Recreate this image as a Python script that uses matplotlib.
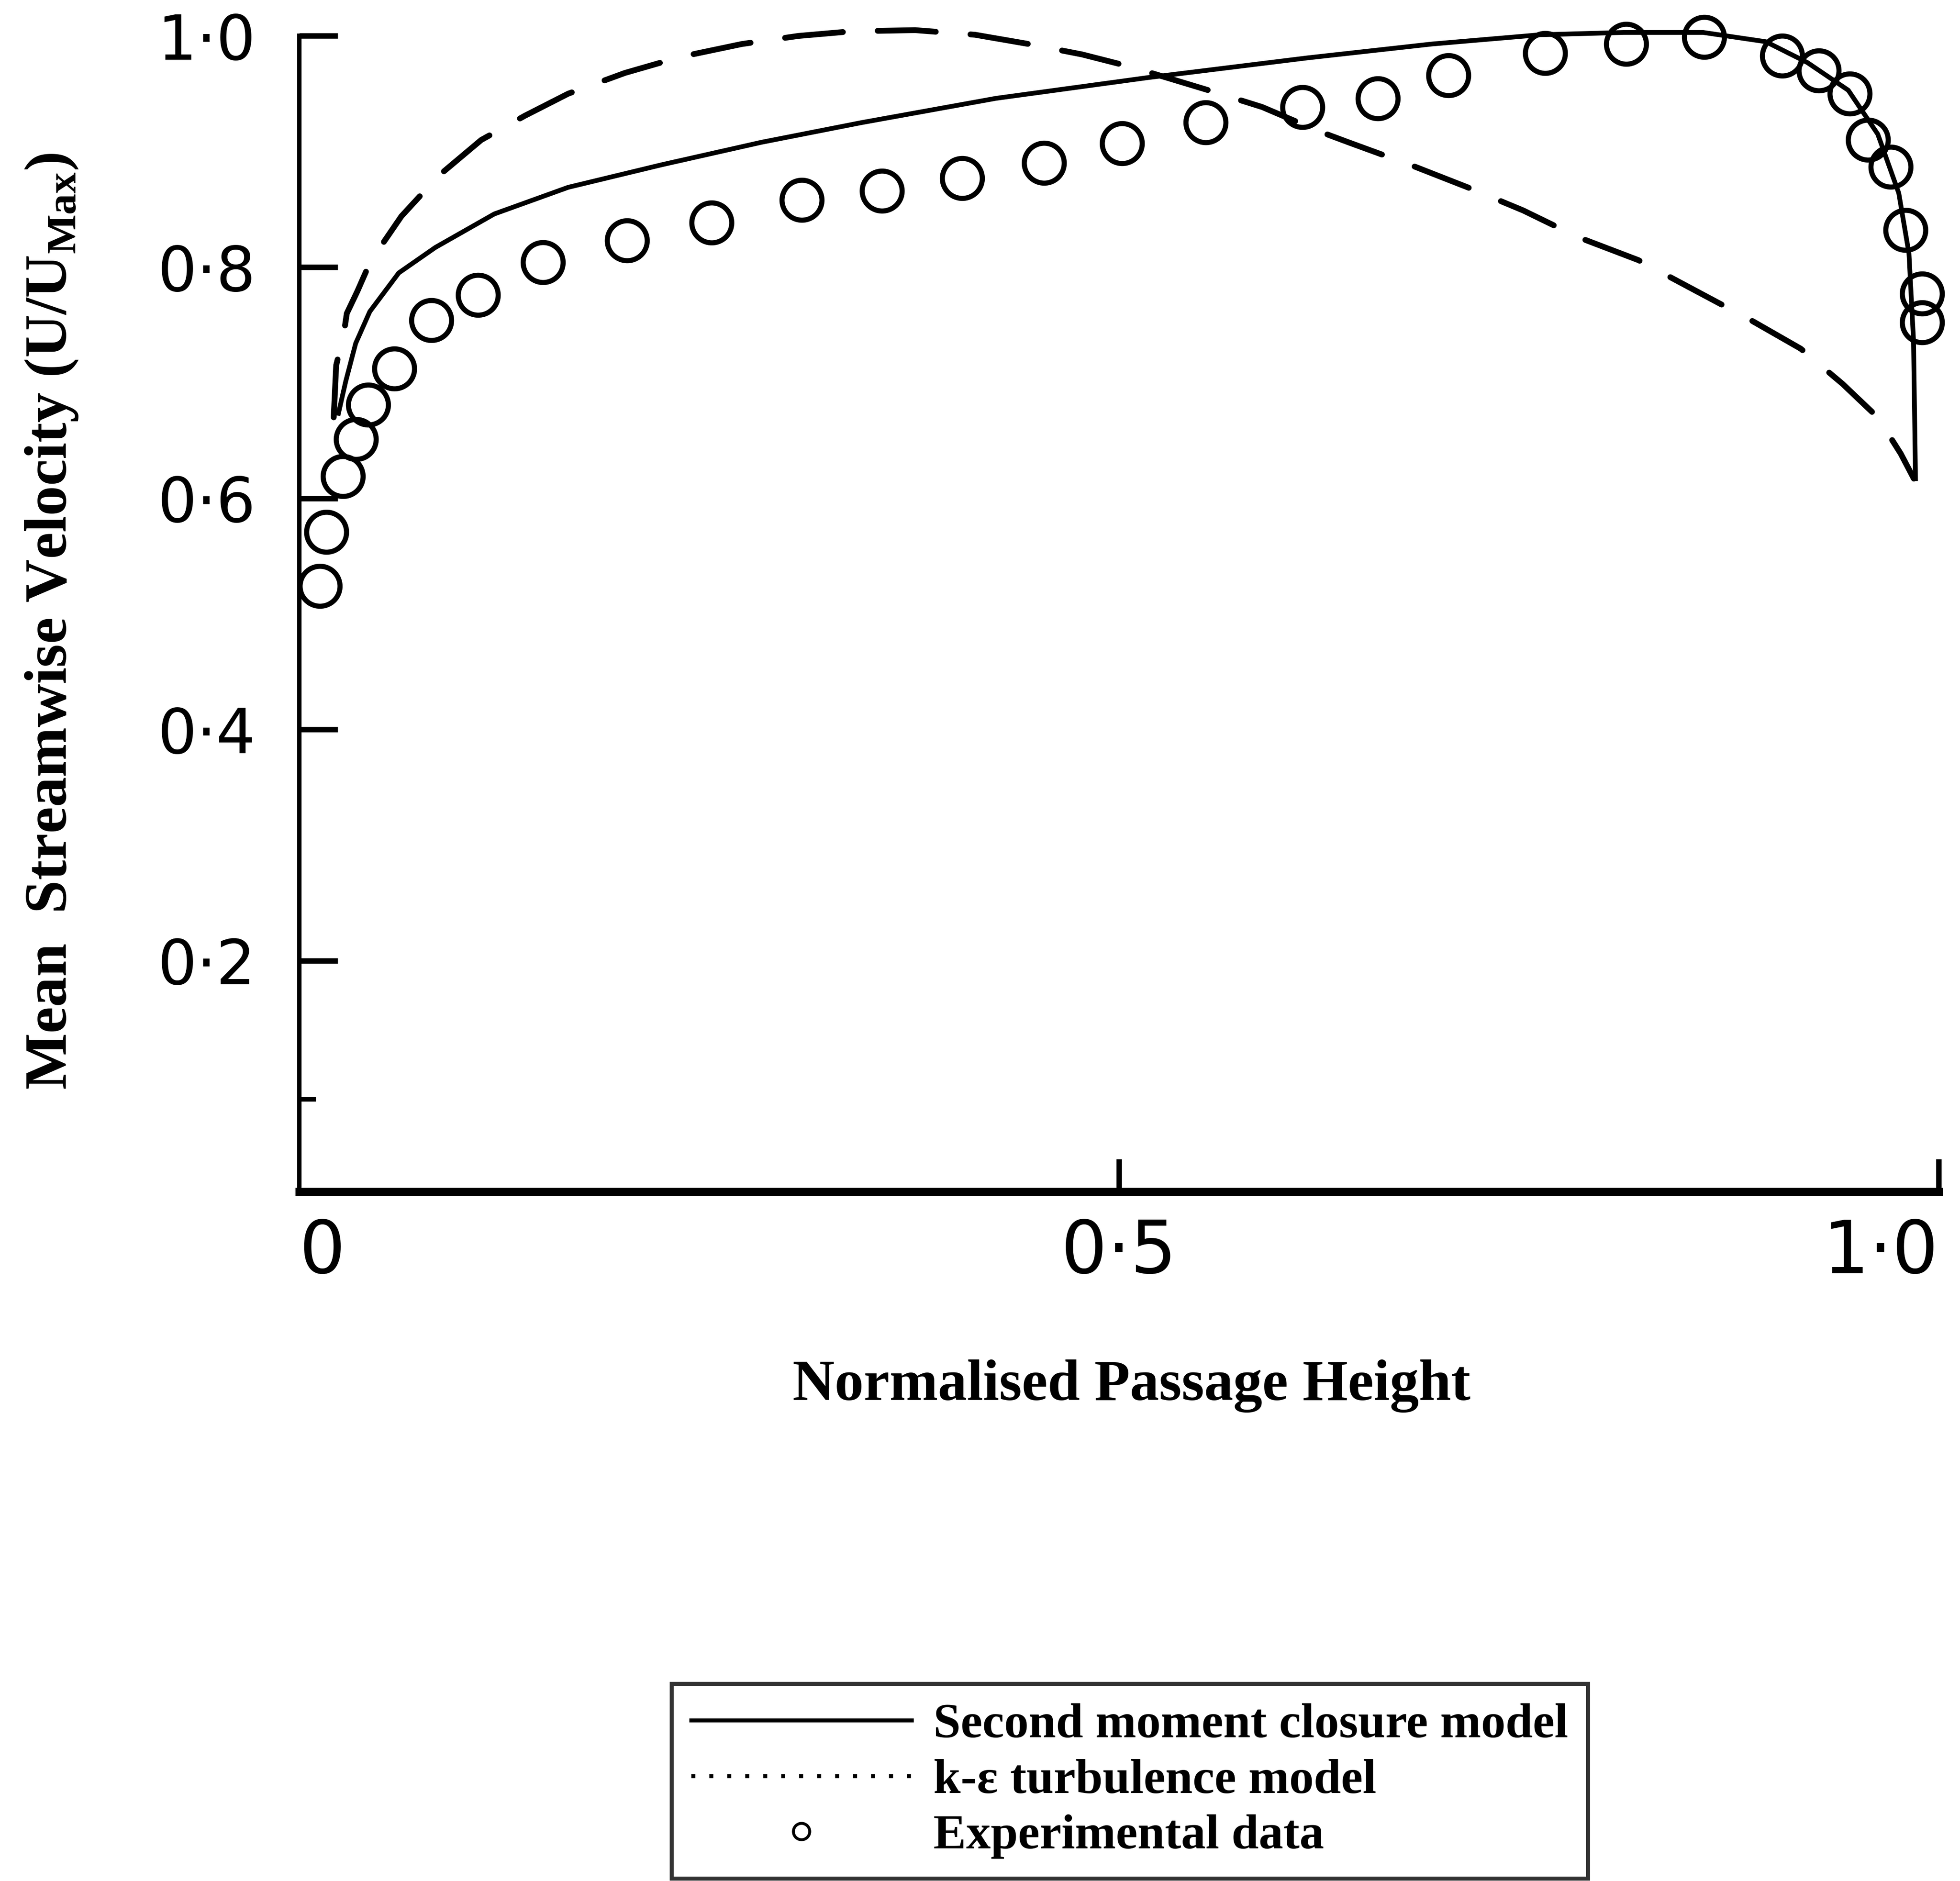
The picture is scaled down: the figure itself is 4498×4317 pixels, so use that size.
import matplotlib
matplotlib.use("Agg")
import matplotlib.pyplot as plt
from matplotlib.lines import Line2D

plt.rcParams['mathtext.fontset'] = 'custom'
plt.rcParams['mathtext.rm'] = 'Liberation Serif:bold'
plt.rcParams['mathtext.bf'] = 'Liberation Serif:bold'

# experimental data (circles)
exp_x = [0.0126, 0.0164, 0.0267, 0.0347, 0.042, 0.058, 0.0805, 0.109, 0.1487, 0.200,
         0.2515, 0.3066, 0.3555, 0.4043, 0.4544, 0.502, 0.553, 0.612, 0.658, 0.701,
         0.760, 0.8095, 0.857, 0.9047, 0.927, 0.946, 0.957, 0.971, 0.980, 0.990, 0.990]
exp_y = [0.524, 0.571, 0.619, 0.651, 0.681, 0.712, 0.754, 0.776, 0.804, 0.823,
         0.8385, 0.858, 0.866, 0.877, 0.890, 0.907, 0.925, 0.9385, 0.946, 0.966,
         0.985, 0.993, 0.999, 0.983, 0.970, 0.950, 0.910, 0.8866, 0.832, 0.777, 0.752]

# second moment closure model (solid)
smc_x = [0.0239, 0.0283, 0.0344, 0.043, 0.0607, 0.083, 0.119, 0.164, 0.221, 0.282,
         0.343, 0.425, 0.518, 0.615, 0.691, 0.757, 0.808, 0.8565, 0.8947, 0.92,
         0.945, 0.963, 0.9758, 0.982, 0.9848, 0.986]
smc_y = [0.6735, 0.701, 0.734, 0.7615, 0.795, 0.817, 0.846, 0.869, 0.8885, 0.908,
         0.925, 0.946, 0.964, 0.981, 0.993, 1.001, 1.003, 1.003, 0.995, 0.977,
         0.953, 0.915, 0.864, 0.812, 0.737, 0.617]

# k-epsilon model (dashed)
ke_x = [0.021, 0.0225, 0.027, 0.029, 0.0354, 0.0416, 0.051, 0.0623, 0.085, 0.111,
        0.1377, 0.164, 0.1987, 0.233, 0.27, 0.3045, 0.337, 0.3757, 0.4123, 0.445,
        0.4775, 0.508, 0.557, 0.5874, 0.623, 0.640, 0.6786, 0.7128, 0.7467, 0.780,
        0.817, 0.8513, 0.8857, 0.916, 0.9415, 0.963, 0.977, 0.985]
ke_y = [0.67, 0.715, 0.741, 0.760, 0.779, 0.799, 0.8206, 0.844, 0.879, 0.910,
        0.931, 0.950, 0.968, 0.982, 0.993, 1.0, 1.004, 1.005, 1.001, 0.993,
        0.984, 0.973, 0.952, 0.9385, 0.917, 0.908, 0.888, 0.869, 0.849, 0.826,
        0.806, 0.780, 0.754, 0.7294, 0.699, 0.670, 0.6386, 0.617]

yticks = [0.2, 0.4, 0.6, 0.8, 1.0]
ytick_labels = ['0·2', '0·4', '0·6', '0·8', '1·0']
xticks = [0, 0.5, 1.0]
xtick_labels = ['0', '0·5', '1·0']
legend_labels = ['Second moment closure model', 'k-ε turbulence model', 'Experimental data']

fig = plt.figure(figsize=(4498 / 300, 4317 / 300), dpi=300)
ax = fig.add_axes([0.1527, 0.3664, 0.8363, 0.6145])

ax.plot(smc_x, smc_y, color='black', lw=2.6, clip_on=False, zorder=3)
ax.plot(ke_x, ke_y, color='black', lw=3.2, linestyle=(0, (10, 6)),
        dash_capstyle='round', clip_on=False, zorder=3)
ax.plot(exp_x, exp_y, 'o', mfc='none', mec='black', ms=22, mew=2.8,
        clip_on=False, zorder=4)

ax.set_xlim(0, 1.0)
ax.set_ylim(0, 1.0)
for s in ['top', 'right']:
    ax.spines[s].set_visible(False)
ax.spines['left'].set_linewidth(2.4)
ax.spines['bottom'].set_linewidth(4.5)

ax.set_yticks(yticks)
ax.set_yticklabels(ytick_labels, family='DejaVu Sans', fontsize=34)
ax.set_yticks([0.08], minor=True)
ax.set_xticks(xticks)
ax.set_xticklabels(xtick_labels, family='DejaVu Sans', fontsize=40)
xl = ax.get_xticklabels()
xl[0].set_ha('left')
xl[-1].set_ha('right')
ax.tick_params(axis='y', which='major', direction='in', length=21, width=3, pad=24)
ax.tick_params(axis='y', which='minor', direction='in', length=9, width=2.5)
ax.tick_params(axis='x', direction='in', length=18, width=3, pad=14)
ax.xaxis.get_major_ticks()[0].tick1line.set_visible(False)

ax.set_ylabel(r'Mean  Streamwise Velocity (U/U$_{\mathrm{Max}}$)',
              family='Liberation Serif', fontweight='bold', fontsize=33)
ax.yaxis.set_label_coords(-0.134, 0.4935)
ax.set_xlabel('Normalised Passage Height', family='Liberation Serif',
              fontweight='bold', fontsize=32)
ax.xaxis.set_label_coords(0.5076, -0.145)

handles = [Line2D([], [], color='black', lw=2.2),
           Line2D([], [], color='black', lw=2.2, linestyle=(0, (1, 3.5))),
           Line2D([], [], marker='o', ls='none', mfc='none', mec='black', ms=9, mew=1.6)]
leg = fig.legend(handles, legend_labels, loc='lower left',
                 bbox_to_anchor=(0.3425, 0.0013),
                 prop={'family': 'Liberation Serif', 'weight': 'bold', 'size': 27},
                 frameon=True, fancybox=False, edgecolor='black',
                 handlelength=4.5, handletextpad=0.45, labelspacing=0.22,
                 borderpad=0.4, borderaxespad=0)
leg.get_frame().set_linewidth(2.2)

plt.savefig('out.png', dpi=300)
